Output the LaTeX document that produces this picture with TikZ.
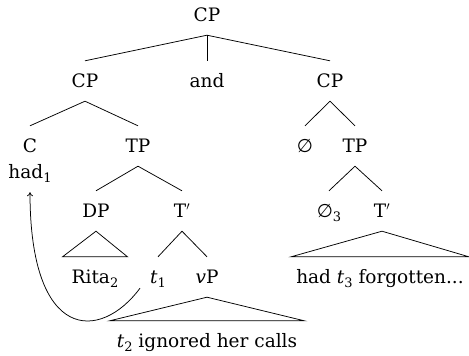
\documentclass[tikz,border=0pt]{standalone}
\usepackage{fontspec}
\setmainfont{DejaVu Serif}
\newfontfamily\symf{DejaVu Sans}
\usetikzlibrary{arrows.meta}
\newcommand\sbs[1]{\raisebox{-4pt}{\fontsize{13}{13}\selectfont #1}}
\newcommand\nul{{\symf ∅}}
\tikzset{
  lab/.style={font=\fontsize{18.5}{22}\selectfont, text height=16pt, text depth=4pt, inner xsep=2pt, inner ysep=10pt, anchor=base},
  leaf/.style={lab, inner xsep=9pt},
  br/.style={line width=0.75pt},
  mv/.style={line width=0.75pt, -{To[length=4pt,width=6pt]}}
}
\begin{document}
\begin{tikzpicture}[x=1pt,y=-1pt]
\useasboundingbox (0,0) rectangle (469,356);
\node[lab] (cp0) at (207,21) {CP};
\node[lab] (cpL) at (85,87) {CP};
\node[lab] (and) at (207,87) {and};
\node[lab] (cpR) at (330,87) {CP};
\node[lab] (c) at (30,152) {C};
\node[lab] (tpL) at (138,152) {TP};
\node[lab] (nul) at (305,152) {\nul};
\node[lab] (tpR) at (355,152) {TP};
\node[lab] (had) at (30,178) {had\sbs{1}};
\node[lab] (dp) at (96,217) {DP};
\node[lab] (tbL) at (182,217) {T$'$};
\node[lab] (nul3) at (329,217) {\nul\sbs{3}};
\node[lab] (tbR) at (382,217) {T$'$};
\node[leaf] (rita) at (95,283) {Rita\sbs{2}};
\node[lab] (t1) at (158,283) {\textit{t}\sbs{1}};
\node[lab] (vp) at (207,283) {\textit{v}P};
\node[leaf, inner xsep=5pt] (had3) at (380,283) {had \textit{t}\sbs{3} forgotten...};
\node[leaf, inner xsep=7pt] (t2) at (207,347) {\textit{t}\sbs{2} ignored her calls};
\draw[br] (cp0.south) -- (cpL.north);
\draw[br] (cp0.south) -- (and.north);
\draw[br] (cp0.south) -- (cpR.north);
\draw[br] (cpL.south) -- (c.north);
\draw[br] (cpL.south) -- (tpL.north);
\draw[br] (cpR.south) -- (nul.north);
\draw[br] (cpR.south) -- (tpR.north);
\draw[br] (tpL.south) -- (dp.north);
\draw[br] (tpL.south) -- (tbL.north);
\draw[br] (tpR.south) -- (nul3.north);
\draw[br] (tpR.south) -- (tbR.north);
\draw[br] (tbL.south) -- (t1.north);
\draw[br] (tbL.south) -- (vp.north);
\draw[br] (dp.south) -- (rita.north west) -- (rita.north east) -- cycle;
\draw[br] (tbR.south) -- (had3.north west) -- (had3.north east) -- cycle;
\draw[br] (vp.south) -- (t2.north west) -- (t2.north east) -- cycle;
\draw[mv] ([shift={(-18,-9)}]t1.south) .. controls (100,342) and (30,342) .. (had.south);
\end{tikzpicture}
\end{document}
